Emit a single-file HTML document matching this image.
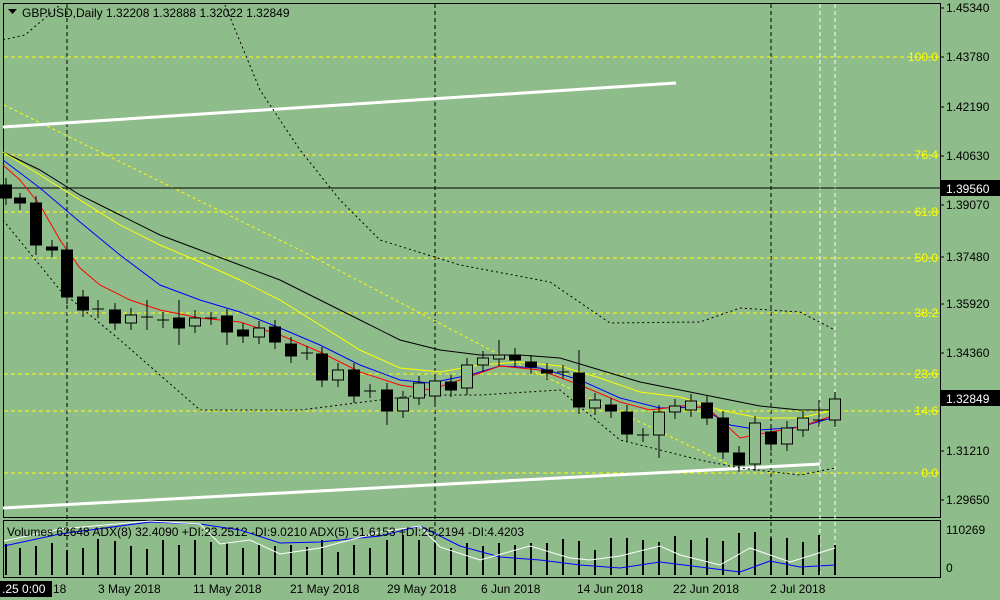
<!DOCTYPE html><html><head><style>body{margin:0;background:#8fbc8b}svg{display:block}text{font-family:"Liberation Sans",sans-serif;font-size:12px}</style></head><body>
<svg width="1000" height="600" viewBox="0 0 1000 600">
<rect width="1000" height="600" fill="#8fbc8b"/>
<g fill="none" stroke-width="1">
<rect x="3.5" y="3.5" width="937" height="514" stroke="#000"/>
<rect x="3.5" y="520.5" width="937" height="57" stroke="#000"/>
<g stroke="#000" stroke-dasharray="4,3"><line x1="67" y1="4" x2="67" y2="577"/><line x1="435" y1="4" x2="435" y2="577"/><line x1="771" y1="4" x2="771" y2="577"/></g>
<g stroke="#fff" stroke-dasharray="4,3"><line x1="820" y1="4" x2="820" y2="577"/><line x1="835" y1="4" x2="835" y2="577"/></g>
<g stroke="#ff0" stroke-dasharray="4,3"><line x1="4" y1="57" x2="940" y2="57"/><line x1="4" y1="155" x2="940" y2="155"/><line x1="4" y1="212" x2="940" y2="212"/><line x1="4" y1="258" x2="940" y2="258"/><line x1="4" y1="313" x2="940" y2="313"/><line x1="4" y1="374" x2="940" y2="374"/><line x1="4" y1="411" x2="940" y2="411"/><line x1="4" y1="473" x2="940" y2="473"/>
<polyline stroke-dasharray="3,3" points="4,105 300,250 500,355 740,470"/></g>
<line x1="4" y1="188" x2="940" y2="188" stroke="#000"/>
<g stroke="#fff" stroke-width="3"><line x1="3" y1="127" x2="676" y2="83"/><line x1="3" y1="508" x2="820" y2="464"/></g>
<g stroke="#000" stroke-dasharray="2,3"><polyline points="3,40 25,35 45,18 60,5"/><polyline points="225,5 260,90 300,150 340,200 380,240 460,265 550,282 610,323 700,322 740,308 800,312 835,330"/><polyline points="3,220 60,290 120,340 200,410 300,410 420,395 480,395 560,390 620,440 700,460 740,468 800,475 835,468"/></g>
<polyline stroke="#000" points="3,152 40,170 80,195 120,215 160,235 200,250 240,265 280,280 320,300 360,320 400,340 440,350 480,355 520,355 560,358 600,370 640,382 680,390 720,398 760,406 800,410 830,410"/>
<polyline stroke="#ff0" points="3,152 40,175 80,200 120,225 160,245 200,262 240,280 280,300 320,325 360,350 400,368 440,372 480,365 520,362 560,366 600,378 640,392 680,397 720,410 760,418 800,418 835,410"/>
<polyline stroke="#00f" points="3,160 40,188 80,222 120,255 160,285 200,300 240,312 280,328 320,345 360,365 400,380 430,383 470,375 500,366 540,368 580,380 620,398 660,408 700,407 730,425 760,430 800,427 835,417"/>
<polyline stroke="#f00" points="3,165 20,180 40,205 60,240 80,268 100,285 130,300 160,310 200,318 240,322 280,335 320,352 360,372 400,385 430,390 460,380 500,366 540,370 580,385 620,402 650,410 690,405 710,410 740,438 770,432 800,427 835,415"/>
</g>
<path stroke="#000" fill="none" d="M6,178V205M20,193V210M36,196V255M52,240V257M67,243V304M83,290V317M98,300V318M115,303V330M131,308V330M147,300V330M163,312V328M179,300V345M195,310V333M211,312V325M227,309V345M243,323V343M259,321V344M275,320V349M291,337V363M307,346V360M322,347V387M338,363V387M354,363V403M370,384V398M387,383V425M403,391V418M419,376V405M435,374V403M451,375V397M467,358V395M483,351V372M499,340V366M515,348V367M531,355V374M547,363V380M563,365V379M579,350V414M595,393V415M611,398V418M627,405V441M643,428V442M659,405V458M675,399V419M691,394V417M707,396V425M723,411V459M739,446V472M755,416V471M771,425V451M787,421V451M803,411V437M819,400V427M835,392V427"/>
<g stroke="#000" fill="#000">
<rect x="0.5" y="185" width="11" height="13"/><rect x="14.5" y="198" width="11" height="5"/><rect x="30.5" y="203" width="11" height="42"/><rect x="46.5" y="247" width="11" height="3"/><rect x="61.5" y="250" width="11" height="47"/><rect x="77.5" y="297" width="11" height="13"/><rect x="109.5" y="310" width="11" height="13"/><rect x="173.5" y="318" width="11" height="10"/><rect x="221.5" y="316" width="11" height="16"/><rect x="237.5" y="330" width="11" height="6"/><rect x="269.5" y="327" width="11" height="15"/><rect x="285.5" y="344" width="11" height="12"/><rect x="316.5" y="354" width="11" height="26"/><rect x="348.5" y="370" width="11" height="26"/><rect x="381.5" y="390" width="11" height="21"/><rect x="445.5" y="382" width="11" height="8"/><rect x="509.5" y="355" width="11" height="5"/><rect x="525.5" y="362" width="11" height="5"/><rect x="541.5" y="370" width="11" height="3"/><rect x="573.5" y="373" width="11" height="34"/><rect x="605.5" y="405" width="11" height="6"/><rect x="621.5" y="412" width="11" height="22"/><rect x="701.5" y="403" width="11" height="15"/><rect x="717.5" y="418" width="11" height="34"/><rect x="733.5" y="453" width="11" height="12"/><rect x="765.5" y="432" width="11" height="12"/>
</g>
<g stroke="#000" fill="#8fbc8b">
<rect x="125.5" y="315" width="11" height="8"/><rect x="189.5" y="318" width="11" height="8"/><rect x="253.5" y="328" width="11" height="9"/><rect x="332.5" y="370" width="11" height="10"/><rect x="397.5" y="398" width="11" height="13"/><rect x="413.5" y="383" width="11" height="15"/><rect x="429.5" y="381" width="11" height="15"/><rect x="461.5" y="365" width="11" height="23"/><rect x="477.5" y="358" width="11" height="7"/><rect x="493.5" y="355" width="11" height="4"/><rect x="589.5" y="400" width="11" height="8"/><rect x="653.5" y="412" width="11" height="23"/><rect x="669.5" y="406" width="11" height="6"/><rect x="685.5" y="401" width="11" height="9"/><rect x="749.5" y="423" width="11" height="41"/><rect x="781.5" y="428" width="11" height="16"/><rect x="797.5" y="418" width="11" height="12"/><rect x="829.5" y="399" width="11" height="21"/>
</g>
<path stroke="#000" d="M92,309h12M141,317h12M157,320h12M205,318h12M301,353h12M364,391h12M557,372h12M637,435h12M813,420h12"/>
<g font-size="12" fill="#ff0" text-anchor="end"><text x="938" y="61">100.0</text><text x="938" y="159">76.4</text><text x="938" y="216">61.8</text><text x="938" y="262">50.0</text><text x="938" y="317">38.2</text><text x="938" y="378">23.6</text><text x="938" y="415">14.6</text><text x="938" y="477">0.0</text></g>
<g fill="#000"><text x="946" y="12">1.45340</text><text x="946" y="61">1.43780</text><text x="946" y="111">1.42190</text><text x="946" y="160">1.40630</text><text x="946" y="209">1.39070</text><text x="946" y="261">1.37480</text><text x="946" y="308">1.35920</text><text x="946" y="357">1.34360</text><text x="946" y="455">1.31210</text><text x="946" y="504">1.29650</text><text x="946" y="534">110269</text><text x="946" y="572">0</text>
<path stroke="#000" d="M940,8h4M940,57h4M940,107h4M940,156h4M940,205h4M940,257h4M940,304h4M940,353h4M940,451h4M940,500h4"/>
<rect x="941" y="180" width="59" height="16"/><rect x="941" y="390" width="59" height="16"/><rect x="0" y="581" width="52" height="16"/></g>
<g fill="#fff"><text x="946" y="193">1.39560</text><text x="946" y="403">1.32849</text><text x="2" y="593">.25 0:00</text></g>
<g fill="#000"><text x="53" y="593">18</text><text x="98" y="593">3 May 2018</text><text x="193" y="593">11 May 2018</text><text x="290" y="593">21 May 2018</text><text x="387" y="593">29 May 2018</text><text x="481" y="593">6 Jun 2018</text><text x="577" y="593">14 Jun 2018</text><text x="673" y="593">22 Jun 2018</text><text x="770" y="593">2 Jul 2018</text>
<path d="M8,9h9l-4.5,5z"/><text x="22" y="17">GBPUSD,Daily  1.32208 1.32888 1.32022 1.32849</text></g>
<path stroke="#000" stroke-width="2" d="M6,544V575M20,548V575M36,546V575M52,543V575M67,550V575M83,548V575M98,539V575M115,541V575M131,546V575M147,549V575M163,540V575M179,545V575M195,540V575M211,542V575M227,543V575M243,548V575M259,545V575M275,546V575M291,545V575M307,547V575M322,540V575M338,552V575M354,545V575M370,548V575M387,540V575M403,535V575M419,540V575M435,542V575M451,548V575M467,543V575M483,546V575M499,543V575M515,545V575M531,543V575M547,543V575M563,539V575M579,541V575M595,550V575M611,538V575M627,538V575M643,540V575M659,542V575M675,536V575M691,540V575M707,538V575M723,541V575M739,533V575M755,532V575M771,538V575M787,538V575M803,542V575M819,535V575M835,545V575"/>
<g fill="none"><polyline stroke="#00f" points="4,546 60,534 150,522 200,524 240,530 280,543 320,542 380,536 420,526 460,546 500,557 540,560 580,565 620,568 660,562 700,567 740,572 770,561 800,567 835,565"/>
<polyline stroke="#fff" points="4,541 60,529 150,521 200,524 220,544 250,540 280,554 320,548 380,532 420,526 440,547 480,560 530,546 570,558 590,560 620,556 660,546 680,555 720,565 750,548 790,562 835,548"/></g>
<text x="7" y="536" fill="#000" font-size="12">Volumes 62648  ADX(8) 32.4090 +DI:23.2512 -DI:9.0210  ADX(5) 51.6153 +DI:25.2194 -DI:4.4203</text>
</svg></body></html>
